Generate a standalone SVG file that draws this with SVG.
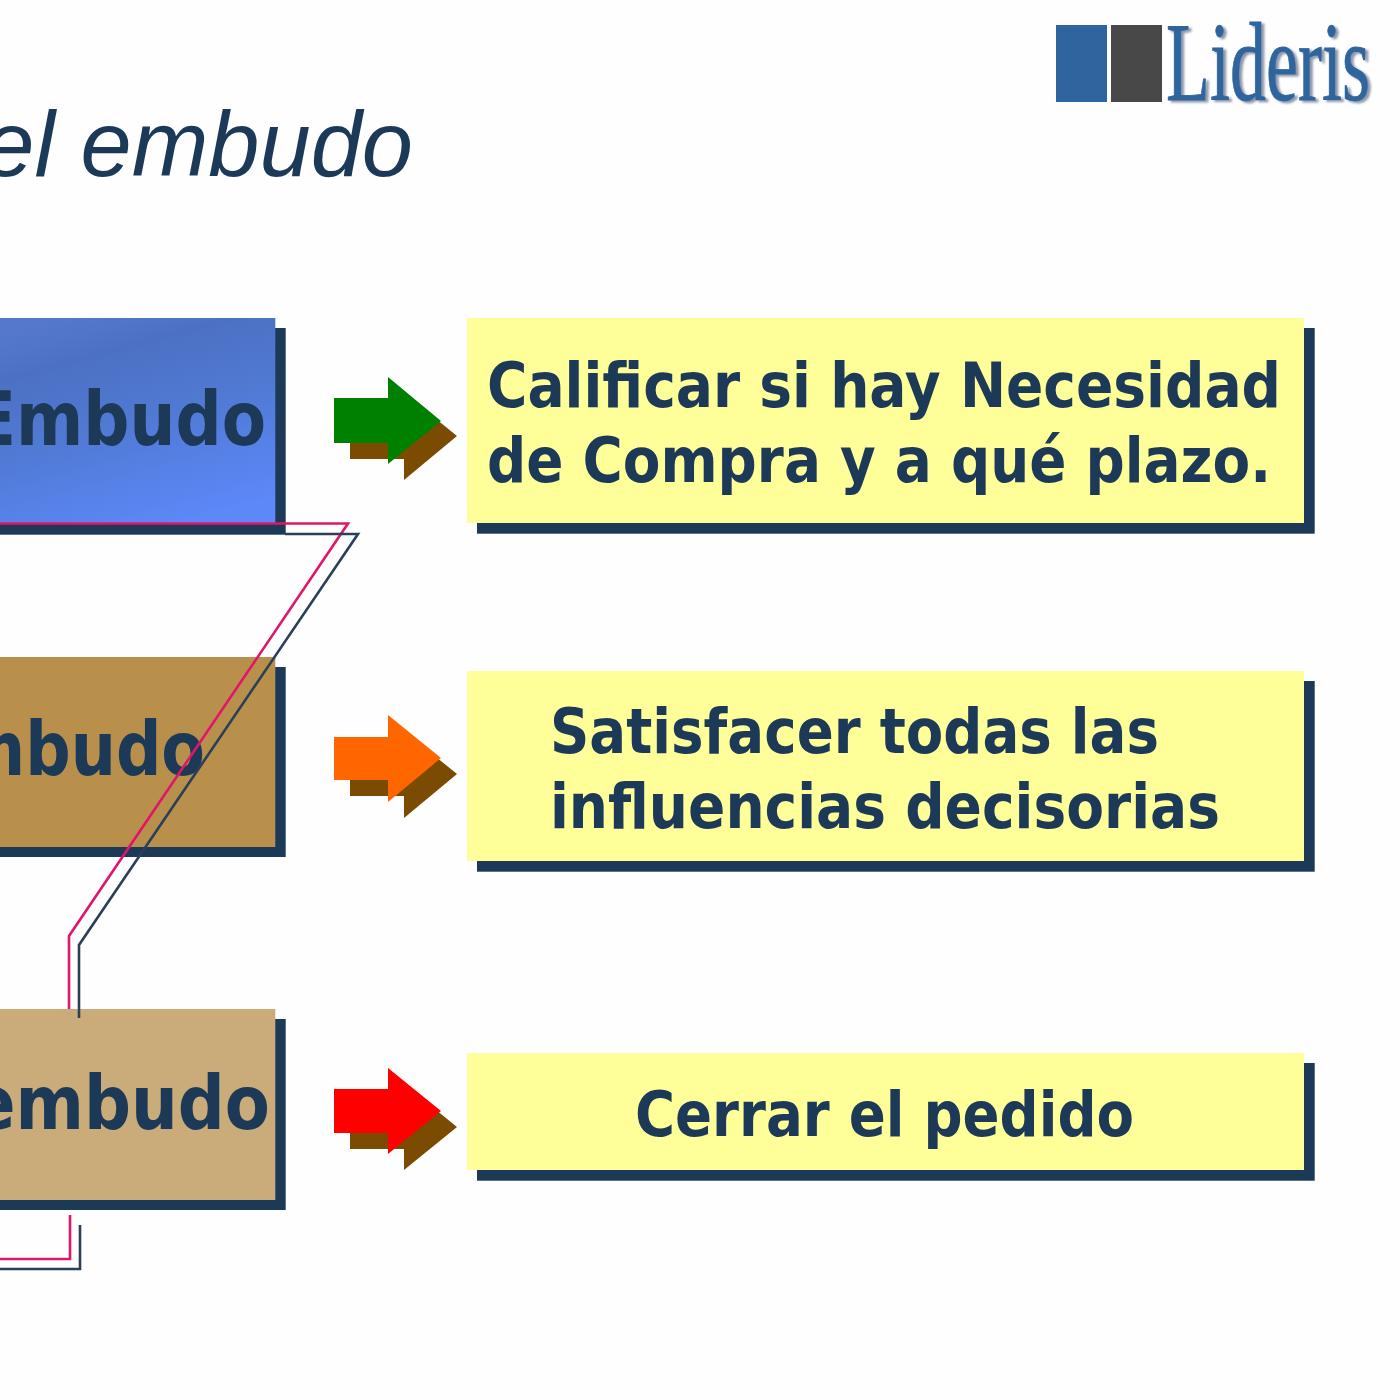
<svg xmlns="http://www.w3.org/2000/svg" width="1400" height="1400" viewBox="0 0 1400 1400">
<defs>
<linearGradient id="blueFill" gradientUnits="userSpaceOnUse" x1="90" y1="310" x2="150" y2="530">
<stop offset="0" stop-color="#5578cc"/><stop offset="0.2" stop-color="#4c71c4"/><stop offset="0.5" stop-color="#5079d2"/><stop offset="1" stop-color="#5c88f8"/>
</linearGradient>
<filter id="soft" x="-5%" y="-5%" width="110%" height="115%"><feDropShadow dx="3" dy="2" stdDeviation="1.2" flood-color="#8d99ab"/></filter>
</defs>
<style>
.shadow{fill:#1c3958}
.note{fill:#ffff99}
.lbl{font-family:"DejaVu Sans","Liberation Sans",sans-serif;font-weight:700;fill:#1c3958}
.big{font-size:74px;text-anchor:end}
.mid{font-size:62px}
.ash{fill:#7a4b00}
.wire{fill:none;stroke-width:2.6}
.pink{stroke:#e0166a}
.navy{stroke:#2a4058}
</style>
<rect width="1400" height="1400" fill="#fefefe"/>
<g id="logo">
<rect x="1056" y="25" width="51" height="77" fill="#2f659e"/>
<rect x="1111" y="25" width="51" height="77" fill="#484848"/>
<text x="1166" y="100" font-family="Liberation Serif,serif" font-size="112" fill="#2f659e" stroke="#2f659e" stroke-width="0.8" filter="url(#soft)" textLength="204" lengthAdjust="spacingAndGlyphs">Lideris</text>
</g>
<g id="title"><text x="413" y="176" text-anchor="end" font-family="Liberation Sans,sans-serif" font-style="italic" font-size="92" fill="#1c3958">el embudo</text></g>
<g id="stage1">
<rect class="shadow" x="-10" y="328" width="295.7" height="206.7"/>
<rect x="-10" y="318" width="285.3" height="205" fill="url(#blueFill)"/>
<text class="lbl big" x="266" y="445" textLength="294" lengthAdjust="spacingAndGlyphs">Embudo</text>
</g>
<g id="stage2">
<rect class="shadow" x="-10" y="667" width="295.7" height="190"/>
<rect x="-10" y="657" width="285.3" height="190" fill="#b88f4b"/>
<text class="lbl big" x="205" y="775" textLength="246" lengthAdjust="spacingAndGlyphs">mbudo</text>
</g>
<g id="stage3">
<rect class="shadow" x="-10" y="1019" width="295.7" height="191"/>
<rect x="-10" y="1009" width="285.3" height="191" fill="#caab7a"/>
<text class="lbl big" x="270" y="1129" textLength="299" lengthAdjust="spacingAndGlyphs">embudo</text>
</g>
<g id="connectors">
<path class="wire pink" d="M0 523.5H348L69 936V1009"/>
<path class="wire navy" d="M285 534H358L79 945V1018"/>
<path class="wire pink" d="M70 1215V1259H0"/>
<path class="wire navy" d="M80 1225V1269H0"/>
</g>
<g id="arrow1">
<path class="ash" d="M350 414H404V393L457 436L404 480V459H350Z"/>
<path fill="#008000" d="M334 398H388V377L441 421L388 464V443H334Z"/>
</g>
<g id="arrow2">
<path class="ash" d="M350 753H404V731L457 774L404 818V796H350Z"/>
<path fill="#ff6600" d="M334 737H388V715L441 758L388 802V780H334Z"/>
</g>
<g id="arrow3">
<path class="ash" d="M350 1105H404V1084L457 1127L404 1170V1149H350Z"/>
<path fill="#ff0000" d="M334 1089H388V1068L441 1111L388 1154V1133H334Z"/>
</g>
<g id="note1">
<rect class="shadow" x="477" y="328" width="837.7" height="205.7"/>
<rect class="note" x="467" y="318" width="837" height="205"/>
<text class="lbl mid" x="487" y="407" textLength="794" lengthAdjust="spacingAndGlyphs">Calificar si hay Necesidad</text>
<text class="lbl mid" x="487" y="482" textLength="784" lengthAdjust="spacingAndGlyphs">de Compra y a qué plazo.</text>
</g>
<g id="note2">
<rect class="shadow" x="477" y="681" width="837.7" height="190.7"/>
<rect class="note" x="467" y="671" width="837" height="190"/>
<text class="lbl mid" x="550" y="753" textLength="609" lengthAdjust="spacingAndGlyphs">Satisfacer todas las</text>
<text class="lbl mid" x="550" y="828" textLength="670" lengthAdjust="spacingAndGlyphs">influencias decisorias</text>
</g>
<g id="note3">
<rect class="shadow" x="477" y="1063" width="837.7" height="117.7"/>
<rect class="note" x="467" y="1053" width="837" height="117"/>
<text class="lbl mid" x="635" y="1136" textLength="499" lengthAdjust="spacingAndGlyphs">Cerrar el pedido</text>
</g>
</svg>
